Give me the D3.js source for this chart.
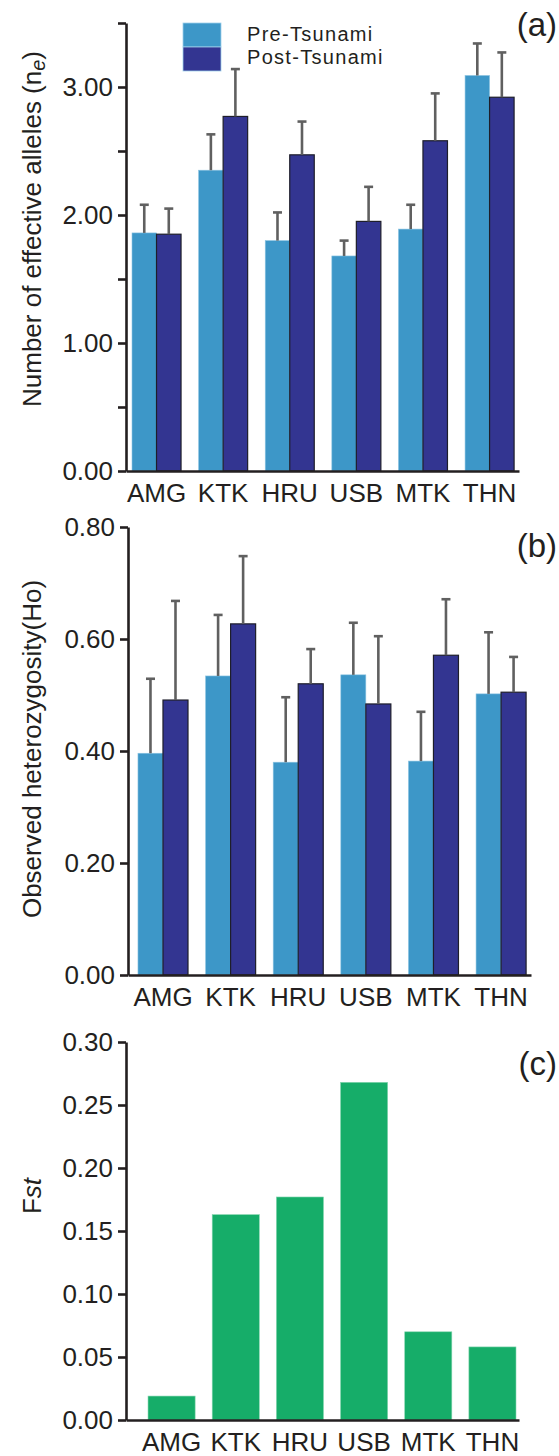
<!DOCTYPE html>
<html>
<head>
<meta charset="utf-8">
<script src="https://cdn.jsdelivr.net/npm/d3@7"></script>
<style>
body { margin: 0; background: #fff; }
text { font-family: Arial, "Liberation Sans", Helvetica, sans-serif; fill: #231f20; }
</style>
</head>
<body>
<svg id="chart" width="559" height="1456"></svg>
<script>
var sites = ['AMG', 'KTK', 'HRU', 'USB', 'MTK', 'THN'];
var periods = ['Pre-Tsunami', 'Post-Tsunami'];

// (a) effective alleles, mean and upper error
var nePre = [1.86, 2.35, 1.80, 1.68, 1.89, 3.09];
var nePreErr = [0.22, 0.28, 0.22, 0.12, 0.19, 0.25];
var nePost = [1.85, 2.77, 2.47, 1.95, 2.58, 2.92];
var nePostErr = [0.20, 0.37, 0.26, 0.27, 0.37, 0.35];
var neTicks = [0, 0.5, 1, 1.5, 2, 2.5, 3, 3.5];

// (b) observed heterozygosity
var hoPre = [0.396, 0.534, 0.380, 0.536, 0.382, 0.502];
var hoPreErr = [0.133, 0.109, 0.116, 0.093, 0.088, 0.110];
var hoPost = [0.491, 0.627, 0.520, 0.484, 0.571, 0.505];
var hoPostErr = [0.177, 0.121, 0.062, 0.121, 0.100, 0.063];
var hoTicks = [0, 0.2, 0.4, 0.6, 0.8];

// (c) Fst
var fst = [0.019, 0.163, 0.177, 0.268, 0.070, 0.058];
var fstTicks = [0, 0.05, 0.10, 0.15, 0.20, 0.25, 0.30];

var colors = { pre: '#3d97c8', post: '#333591', fst: '#16ad69' };

var svg = d3.select('#chart');
var fmt = d3.format('.2f');

function drawAxes(g, x, y, ticks, labelled, xPad) {
	var yAxis = g.append('g')
		.attr('transform', 'translate(' + x.range()[0] + ',0)')
		.call(d3.axisLeft(y)
			.tickValues(ticks)
			.tickSize(8)
			.tickSizeOuter(0)
			.tickPadding(5)
			.tickFormat(function(d){ return labelled(d) ? fmt(d) : ''; }));

	var xAxis = g.append('g')
		.attr('transform', 'translate(0,' + y.range()[0] + ')')
		.call(d3.axisBottom(x).tickSize(0).tickSizeOuter(0).tickPadding(xPad));

	[yAxis, xAxis].forEach(function(a){
		a.selectAll('path, line').attr('stroke', '#231f20').attr('stroke-width', 2.6);
		a.selectAll('text').style('font-size', '26px').attr('fill', '#231f20');
	});
}

function groupedPanel(opt) {
	var g = svg.append('g');

	var x = d3.scaleBand().domain(sites)
		.range([opt.left, opt.right])
		.paddingInner(opt.pi).paddingOuter(opt.po).align(opt.align);
	var sub = d3.scaleBand().domain(['pre', 'post']).range([0, x.bandwidth()]);
	var y = d3.scaleLinear().domain(opt.domain).range([opt.bottom, opt.top]);

	var rows = sites.map(function(s, i){
		return [
			{ site: s, key: 'pre', v: opt.pre[i], e: opt.preErr[i] },
			{ site: s, key: 'post', v: opt.post[i], e: opt.postErr[i] }
		];
	});
	var flat = d3.merge(rows);

	g.selectAll('rect.bar')
		.data(flat)
		.enter()
		.append('rect')
		.attr('class', 'bar')
		.attr('x', function(d){ return x(d.site) + sub(d.key); })
		.attr('width', sub.bandwidth())
		.attr('y', function(d){ return y(d.v); })
		.attr('height', function(d){ return y(0) - y(d.v); })
		.attr('fill', function(d){ return colors[d.key]; })
		.attr('stroke', function(d){ return d.key === 'post' ? '#1e1e2a' : '#8cc4e2'; })
		.attr('stroke-width', function(d){ return d.key === 'post' ? 1.2 : 0.6; });

	var err = g.selectAll('g.err')
		.data(flat)
		.enter()
		.append('g')
		.attr('class', 'err')
		.attr('transform', function(d){
			return 'translate(' + (x(d.site) + sub(d.key) + sub.bandwidth() / 2) + ',0)';
		});

	err.append('line')
		.attr('y1', function(d){ return y(d.v); })
		.attr('y2', function(d){ return y(d.v + d.e); })
		.attr('stroke', '#606060').attr('stroke-width', 2.6);

	err.append('line')
		.attr('x1', -4.5).attr('x2', 4.5)
		.attr('y1', function(d){ return y(d.v + d.e); })
		.attr('y2', function(d){ return y(d.v + d.e); })
		.attr('stroke', '#606060').attr('stroke-width', 2.6);

	drawAxes(g, x, y, opt.ticks, opt.labelled, 13);

	return g;
}

// panel (a)
var ga = groupedPanel({
	left: 126, right: 519, pi: 0.264, po: 0.082, align: 0.55,
	top: 23, bottom: 471, domain: [0, 3.5],
	pre: nePre, preErr: nePreErr, post: nePost, postErr: nePostErr,
	ticks: neTicks,
	labelled: function(d){ return d % 1 === 0; }
});

// legend
var legend = ga.append('g').attr('class', 'legend');
legend.selectAll('rect')
	.data(['pre', 'post'])
	.enter()
	.append('rect')
	.attr('x', 183)
	.attr('y', function(d, i){ return 23 + i * 24; })
	.attr('width', 38)
	.attr('height', 24)
	.attr('fill', function(d){ return colors[d]; })
	.attr('stroke', '#9fd0ea')
	.attr('stroke-width', 0.8);

legend.selectAll('text')
	.data(periods)
	.enter()
	.append('text')
	.attr('x', 247)
	.attr('y', function(d, i){ return 41 + i * 23; })
	.style('font-size', '20px')
	.style('letter-spacing', '1.3px')
	.text(function(d){ return d; });

var ya = ga.append('text')
	.attr('transform', 'translate(41,229) rotate(-90)')
	.attr('text-anchor', 'middle')
	.style('font-size', '26px');
ya.append('tspan').text('Number of effective alleles (n');
ya.append('tspan').attr('font-style', 'italic').attr('baseline-shift', '-22%').style('font-size', '20px').text('e');
ya.append('tspan').text(')');

ga.append('text').attr('x', 557).attr('y', 36).attr('text-anchor', 'end')
	.style('font-size', '33px').text('(a)');

// panel (b)
var gb = groupedPanel({
	left: 128, right: 531, pi: 0.26, po: 0.11, align: 0.67,
	top: 527, bottom: 975, domain: [0, 0.8],
	pre: hoPre, preErr: hoPreErr, post: hoPost, postErr: hoPostErr,
	ticks: hoTicks,
	labelled: function(){ return true; }
});

gb.append('text')
	.attr('transform', 'translate(41,749) rotate(-90)')
	.attr('text-anchor', 'middle')
	.style('font-size', '26px')
	.text('Observed heterozygosity(Ho)');

gb.append('text').attr('x', 557).attr('y', 557).attr('text-anchor', 'end')
	.style('font-size', '33px').text('(b)');

// panel (c)
(function(){
	var g = svg.append('g');
	var x = d3.scaleBand().domain(sites)
		.range([126, 519]).paddingInner(0.266).paddingOuter(0.195).align(0.88);
	var y = d3.scaleLinear().domain([0, 0.30]).range([1420, 1042]);

	g.selectAll('rect')
		.data(fst)
		.enter()
		.append('rect')
		.attr('x', function(d, i){ return x(sites[i]); })
		.attr('width', x.bandwidth())
		.attr('y', function(d){ return y(d); })
		.attr('height', function(d){ return y(0) - y(d); })
		.attr('fill', colors.fst)
		.attr('stroke', '#86d6b0')
		.attr('stroke-width', 0.6);

	drawAxes(g, x, y, fstTicks, function(){ return true; }, 13);

	var yl = g.append('text')
		.attr('transform', 'translate(41,1196) rotate(-90)')
		.attr('text-anchor', 'middle')
		.style('font-size', '26px');
	yl.append('tspan').text('F');
	yl.append('tspan').attr('font-style', 'italic').text('st');

	g.append('text').attr('x', 557).attr('y', 1075).attr('text-anchor', 'end')
		.style('font-size', '33px').text('(c)');
})();
</script>
</body>
</html>
